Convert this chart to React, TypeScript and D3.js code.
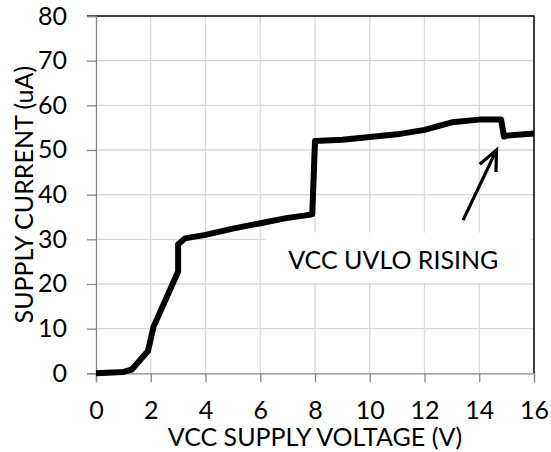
import * as d3 from 'd3';
import { useEffect, useRef } from 'react';

// Supply current vs VCC supply voltage
const voltage = [0, 1, 1.3, 1.9, 2.1, 3, 3, 3.25, 4, 5, 6, 7, 7.6, 7.9, 8, 9, 10, 11, 12, 13, 14, 14.8, 14.9, 15, 16];
const current = [0, 0.3, 0.8, 5, 10.4, 22.8, 28.9, 30.2, 31, 32.4, 33.6, 34.8, 35.3, 35.6, 52, 52.3, 52.9, 53.5, 54.5, 56.2, 56.8, 56.8, 53, 53.2, 53.7];

const xTicks = [0, 2, 4, 6, 8, 10, 12, 14, 16];
const yTicks = [0, 10, 20, 30, 40, 50, 60, 70, 80];

const xTitle = 'VCC SUPPLY VOLTAGE (V)';
const yTitle = 'SUPPLY CURRENT (uA)';
const noteText = 'VCC UVLO RISING';
// annotation anchor points in data units
const noteTip = [14.63, 50];
const noteTail = [13.41, 34.3];
const noteBox = [6.2, 31.5, 15.9, 20];
const notePos = [10.86, 23.3];

const W = 551;
const H = 452;
const FONT = 'Lato, "Liberation Sans", Arial, sans-serif';
const FS = '25px';

export default function App() {
  const svgRef = useRef<SVGSVGElement>(null);

  useEffect(() => {
    if (!svgRef.current) return;
    const svg = d3.select(svgRef.current);
    svg.selectAll('*').remove();

    const margin = { top: 16, right: 17, bottom: 78.7, left: 96 };
    const innerW = W - margin.left - margin.right;
    const innerH = H - margin.top - margin.bottom;

    const x = d3.scaleLinear().domain([0, 16]).range([0, innerW]);
    const y = d3.scaleLinear().domain([0, 80]).range([innerH, 0]);

    const g = svg.append('g').attr('transform', `translate(${margin.left},${margin.top})`);

    // grid
    g.selectAll('.gx')
      .data(xTicks.slice(1, -1))
      .enter()
      .append('line')
      .attr('x1', (d) => x(d))
      .attr('x2', (d) => x(d))
      .attr('y1', 0)
      .attr('y2', innerH)
      .attr('stroke', '#d9d9d9')
      .attr('stroke-width', 1.3);
    g.selectAll('.gy')
      .data(yTicks.slice(1, -1))
      .enter()
      .append('line')
      .attr('x1', 0)
      .attr('x2', innerW)
      .attr('y1', (d) => y(d))
      .attr('y2', (d) => y(d))
      .attr('stroke', '#d9d9d9')
      .attr('stroke-width', 1.3);

    // top / right border
    g.append('path')
      .attr('d', `M-9,${y(80)}H${x(16)}V${y(0)}`)
      .attr('fill', 'none')
      .attr('stroke', '#000')
      .attr('stroke-width', 1.5);

    // annotation box (white, hides grid)
    g.append('rect')
      .attr('x', x(noteBox[0]))
      .attr('y', y(noteBox[1]))
      .attr('width', x(noteBox[2]) - x(noteBox[0]))
      .attr('height', y(noteBox[3]) - y(noteBox[1]) - 1)
      .attr('fill', '#fff');

    // X axis
    const xAxis = g
      .append('g')
      .attr('transform', `translate(0,${innerH})`)
      .call(d3.axisBottom(x).tickValues(xTicks).tickSize(9).tickPadding(19).tickFormat(d3.format('d')));
    xAxis.select('.domain').attr('stroke', '#868686').attr('stroke-width', 1.3);
    xAxis.selectAll('.tick line').attr('stroke', '#868686').attr('stroke-width', 1.3);
    xAxis
      .selectAll('.tick text')
      .attr('fill', '#000')
      .style('font-family', FONT)
      .style('font-size', FS);

    // Y axis
    const yAxis = g
      .append('g')
      .call(d3.axisLeft(y).tickValues(yTicks).tickSize(9).tickPadding(20).tickFormat(d3.format('d')));
    yAxis.select('.domain').attr('stroke', '#868686').attr('stroke-width', 1.3);
    yAxis.selectAll('.tick line').attr('stroke', '#868686').attr('stroke-width', 1.3);
    yAxis
      .selectAll('.tick text')
      .attr('fill', '#000')
      .style('font-family', FONT)
      .style('font-size', FS);

    // data line
    const pts = voltage.map((v, i) => [v, current[i]] as [number, number]);
    const line = d3
      .line<[number, number]>()
      .x((d) => x(d[0]))
      .y((d) => y(d[1]));
    g.append('path')
      .datum(pts)
      .attr('d', line)
      .attr('fill', 'none')
      .attr('stroke', '#000')
      .attr('stroke-width', 6)
      .attr('stroke-linejoin', 'round');

    // annotation arrow
    const tx = x(noteTip[0]);
    const ty = y(noteTip[1]);
    const sx = x(noteTail[0]);
    const sy = y(noteTail[1]);
    const ang = Math.atan2(ty - sy, tx - sx);
    const hl = 22;
    const spread = 0.42;
    g.append('line')
      .attr('x1', sx)
      .attr('y1', sy)
      .attr('x2', tx)
      .attr('y2', ty)
      .attr('stroke', '#000')
      .attr('stroke-width', 3.2);
    g.append('path')
      .attr(
        'd',
        `M${tx - hl * Math.cos(ang - spread)},${ty - hl * Math.sin(ang - spread)}L${tx},${ty}L${
          tx - hl * Math.cos(ang + spread)
        },${ty - hl * Math.sin(ang + spread)}`
      )
      .attr('fill', 'none')
      .attr('stroke', '#000')
      .attr('stroke-width', 3.2)
      .attr('stroke-linejoin', 'miter');

    g.append('text')
      .attr('x', x(notePos[0]))
      .attr('y', y(notePos[1]))
      .attr('text-anchor', 'middle')
      .style('font-family', FONT)
      .style('font-size', FS)
      .text(noteText);

    // axis titles
    svg
      .append('text')
      .attr('x', margin.left + innerW / 2)
      .attr('y', 446)
      .attr('text-anchor', 'middle')
      .style('font-family', FONT)
      .style('font-size', FS)
      .text(xTitle);
    svg
      .append('text')
      .attr('transform', `translate(33,${margin.top + innerH / 2}) rotate(-90)`)
      .attr('text-anchor', 'middle')
      .style('font-family', FONT)
      .style('font-size', FS)
      .text(yTitle);
  }, []);

  return (
    <svg
      ref={svgRef}
      width={W}
      height={H}
      style={{ position: 'absolute', left: 0, top: 0, background: '#fff' }}
    />
  );
}
